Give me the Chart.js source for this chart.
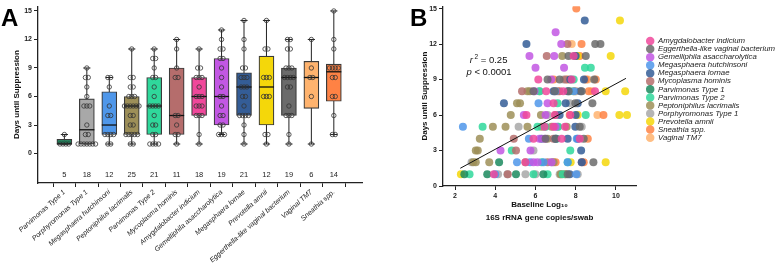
<!DOCTYPE html>
<html>
<head>
<meta charset="utf-8">
<script src="https://cdn.jsdelivr.net/npm/chart.js@4.4.1/dist/chart.umd.min.js"></script>
<style>
  html, body { margin: 0; padding: 0; background: #fff; }
  #wrap { position: relative; width: 775px; height: 275px; overflow: hidden; font-family: 'Liberation Sans', Arial, sans-serif; }
  .panel { position: absolute; top: 0; height: 275px; }
  #boxA { left: 0; width: 385px; }
  #boxB { left: 385px; width: 390px; }
  .tag { position: absolute; font-weight: bold; font-size: 24px; line-height: 24px; color: #000; }
</style>
</head>
<body>
<div id="wrap">
  <div class="panel" id="boxA"><canvas id="chartA"></canvas></div>
  <div class="panel" id="boxB"><canvas id="chartB"></canvas></div>
  <div class="tag" style="left:1px;top:6px">A</div>
  <div class="tag" style="left:410px;top:6px">B</div>
</div>
<script>
// species in the order of panel A
const species = [
  'Parvimonas Type 1', 'Porphyromonas Type 1', 'Megasphaera hutchinsoni',
  'Peptoniphilus lacrimalis', 'Parvimonas Type 2', 'Mycoplasma hominis',
  'Amygdalobacter indicium', 'Gemelliphila asaccharolytica', 'Megasphaera lornae',
  'Prevotella amnii', 'Eggerthella-like vaginal bacterium', 'Vaginal TM7', 'Sneathia spp.'
];
const colors = ['#1b8a5e', '#a8a8a8', '#4f97ea', '#9d8f58', '#2fd89b', '#b56d6c', '#f0489b',
  '#c257e3', '#345d97', '#f4d70a', '#6b6b6b', '#ffb36e', '#ff8244'];

// days until suppression, per species
const days = [
  [1, 1, 1, 1, 2],
  [1, 1, 1, 1, 1, 1, 1, 2, 2, 3, 5, 5, 5, 6, 7, 8, 8, 9],
  [1, 1, 2, 2, 2, 2, 4, 4, 5, 7, 8, 8],
  [1, 1, 2, 2, 2, 2, 2, 3, 3, 4, 4, 5, 5, 5, 5, 5, 5, 6, 6, 6, 7, 7, 8, 8, 11],
  [1, 1, 1, 1, 2, 2, 3, 3, 4, 5, 5, 5, 5, 6, 7, 8, 8, 9, 10, 10, 11],
  [1, 2, 2, 3, 4, 4, 8, 8, 9, 11, 12],
  [1, 2, 4, 4, 4, 5, 5, 5, 6, 6, 6, 7, 8, 8, 8, 9, 9, 11],
  [2, 2, 2, 3, 3, 4, 4, 5, 6, 6, 7, 8, 9, 10, 10, 11, 11, 12, 13],
  [1, 2, 3, 4, 4, 4, 4, 5, 6, 6, 7, 7, 7, 8, 8, 8, 9, 9, 11, 12, 14],
  [1, 2, 2, 6, 6, 6, 8, 8, 8, 11, 11, 14],
  [1, 2, 4, 4, 4, 5, 7, 7, 8, 8, 8, 8, 9, 9, 9, 11, 11, 12, 12],
  [1, 6, 8, 8, 9, 12],
  [2, 2, 4, 6, 6, 8, 8, 9, 9, 9, 9, 11, 12, 15]
];
// baseline log10 16S copies/swab, paired with days
const baseline = [
  [2.46, 3.6, 5.03, 6.39, 4.19],
  [4.14, 7.2, 7.5, 6.0, 8.1, 5.5, 4.6, 2.82, 6.8, 5.9, 5.16, 7.1, 8.3, 6.6, 7.7, 6.2, 8.0, 7.4],
  [4.0, 8.03, 5.08, 5.73, 6.4, 7.6, 5.67, 8.05, 2.39, 6.15, 7.0, 7.9],
  [7.47, 7.25, 3.03, 3.7, 2.9, 6.9, 5.5, 3.03, 3.13, 3.23, 6.6, 3.88, 4.51, 7.55, 6.8, 5.6, 6.3, 4.77, 6.27, 7.0, 5.08, 5.23, 5.6, 5.72, 7.33],
  [2.72, 7.35, 5.9, 6.6, 7.6, 6.3, 4.82, 7.73, 7.05, 3.37, 6.1, 7.13, 6.5, 8.5, 7.1, 7.7, 6.2, 7.9, 8.46, 8.75, 7.95],
  [4.62, 6.6, 8.3, 5.03, 4.92, 6.9, 5.33, 7.2, 7.5, 6.56, 7.59],
  [3.93, 5.5, 5.9, 7.3, 8.2, 6.45, 7.47, 6.9, 5.55, 6.96, 7.73, 6.9, 6.53, 7.38, 8.96, 6.14, 7.8, 7.9],
  [6.1, 6.8, 5.9, 4.26, 5.75, 6.2, 6.45, 7.0, 5.42, 6.5, 6.6, 5.95, 6.78, 6.0, 7.42, 6.93, 5.7, 7.28, 7.0],
  [7.7, 8.3, 8.27, 7.0, 8.1, 6.3, 7.6, 7.98, 7.2, 8.0, 4.43, 7.5, 8.1, 8.24, 7.6, 6.9, 7.73, 8.41, 8.0, 5.55, 8.45],
  [2.29, 9.49, 7.75, 10.17, 10.55, 8.1, 9.49, 10.46, 7.9, 9.74, 8.1, 10.2],
  [7.6, 8.88, 7.0, 8.4, 6.5, 8.2, 7.98, 8.83, 6.96, 7.65, 8.3, 5.9, 8.92, 7.2, 6.6, 7.64, 8.5, 8.97, 9.23],
  [7.3, 9.08, 8.0, 8.8, 8.6, 7.8],
  [8.4, 7.0, 8.6, 9.38, 7.7, 8.65, 7.1, 8.5, 7.6, 9.0, 6.9, 8.2, 8.29, 8.03]
];

// box plot statistics
const q1 = [1, 1, 2, 2, 2, 2, 4, 3, 4, 3, 4, 4.75, 5.5];
const q3 = [1.5, 5.75, 6.5, 6, 8, 9, 8, 10, 8.5, 10.25, 9, 9.7, 9.4];
const medians = [1, 2.5, 3, 5, 5, 4, 6, 6, 7, 7, 8, 8, 8.6];
const whiskLo = [1, 1, 1, 1, 1, 1, 1, 2, 1, 1, 1, 1, 2];
const whiskHi = [2, 9, 8, 11, 11, 12, 11, 13, 14, 14, 12, 12, 15];

const dayTicks = [0, 3, 6, 9, 12, 15];
const logTicks = [2, 4, 6, 8, 10];
// panel B legend order (index into species)
const legendOrder = [6, 10, 7, 2, 8, 5, 0, 4, 3, 1, 9, 12, 11];
// regression line end points
const fitLine = [{ x: 2.26, y: 1.5 }, { x: 10.5, y: 9.1 }];

const FONT = "'Liberation Sans', Arial, sans-serif";
Chart.defaults.font.family = FONT;
Chart.defaults.color = '#222';

function alpha(hex, a) {
  const n = parseInt(hex.slice(1), 16);
  return `rgba(${n >> 16},${(n >> 8) & 255},${n & 255},${a})`;
}

// ---------- panel A ----------
const boxData = species.map((s, i) => ({ x: i + 1, y: [q1[i], q3[i]] }));
const pointData = [];
days.forEach((vals, i) => {
  const total = {}, seen = {};
  vals.forEach(v => { total[v] = (total[v] || 0) + 1; });
  vals.forEach(v => {
    const k = seen[v] || 0;
    seen[v] = k + 1;
    pointData.push({ x: i + 1 + (k - (total[v] - 1) / 2) * 0.13, y: v });
  });
});

const boxExtras = {
  id: 'boxExtras',
  beforeDatasetsDraw(chart) {
    const { ctx, scales: { x, y } } = chart;
    ctx.save();
    ctx.strokeStyle = '#222';
    ctx.lineWidth = 1;
    species.forEach((s, i) => {
      const px = x.getPixelForValue(i + 1);
      const cw = x.getPixelForValue(i + 1.16) - px;
      ctx.beginPath();
      ctx.moveTo(px, y.getPixelForValue(whiskLo[i]));
      ctx.lineTo(px, y.getPixelForValue(whiskHi[i]));
      [whiskLo[i], whiskHi[i]].forEach(v => {
        const py = y.getPixelForValue(v);
        ctx.moveTo(px - cw, py);
        ctx.lineTo(px + cw, py);
      });
      ctx.stroke();
    });
    ctx.restore();
  },
  afterDatasetDraw(chart, args) {
    if (args.meta.type !== 'bar') return;
    const { ctx, scales: { y } } = chart;
    ctx.save();
    ctx.strokeStyle = '#111';
    ctx.lineWidth = 1.3;
    args.meta.data.forEach((bar, i) => {
      const py = y.getPixelForValue(medians[i]);
      ctx.beginPath();
      ctx.moveTo(bar.x - bar.width / 2, py);
      ctx.lineTo(bar.x + bar.width / 2, py);
      ctx.stroke();
    });
    ctx.restore();
  },
  afterDraw(chart) {
    const { ctx, scales: { x, y } } = chart;
    ctx.save();
    ctx.font = `7.5px ${FONT}`;
    ctx.fillStyle = '#222';
    ctx.textAlign = 'center';
    ctx.textBaseline = 'middle';
    days.forEach((vals, i) => {
      ctx.fillText(String(vals.length), x.getPixelForValue(i + 1), y.getPixelForValue(-2.3));
    });
    ctx.restore();
  }
};

new Chart('chartA', {
  type: 'bar',
  data: {
    datasets: [
      {
        type: 'scatter', data: pointData, order: 1,
        pointRadius: 2.2, pointBorderWidth: 0.8,
        pointBorderColor: '#333', pointBackgroundColor: 'rgba(0,0,0,0)'
      },
      {
        type: 'bar', data: boxData, order: 2,
        backgroundColor: colors, borderColor: '#3a3a3a', borderWidth: 1.2,
        borderSkipped: false, barThickness: 15
      }
    ]
  },
  options: {
    responsive: true, maintainAspectRatio: false, animation: false,
    layout: { padding: { top: 3, right: 23, left: 0, bottom: 0 } },
    plugins: { legend: { display: false }, tooltip: { enabled: false } },
    scales: {
      x: {
        type: 'linear', min: 0.38, max: 13.7,
        afterBuildTicks: s => { s.ticks = species.map((_, i) => ({ value: i + 1 })); },
        afterFit: s => { s.height = 92; },
        ticks: {
          autoSkip: false, minRotation: 42, maxRotation: 42, padding: 1,
          font: { size: 7, style: 'italic' }, color: '#222',
          callback: v => species[v - 1]
        },
        grid: { drawOnChartArea: false, drawTicks: true, tickLength: 4, color: '#222' },
        border: { color: '#222', width: 1.3 }
      },
      y: {
        min: -3.1, max: 15.5,
        afterBuildTicks: s => { s.ticks = dayTicks.map(v => ({ value: v })); },
        afterFit: s => { s.width = 38; },
        ticks: { font: { size: 7, weight: 'bold' }, padding: 2, color: '#222' },
        grid: { drawOnChartArea: false, tickLength: 4, color: '#222' },
        border: { color: '#222', width: 1.3 },
        title: { display: true, text: 'Days until Suppression', font: { size: 8, weight: 'bold' }, padding: { top: 12 }, color: '#111' }
      }
    }
  },
  plugins: [boxExtras]
});

// ---------- panel B ----------
const datasetsB = legendOrder.map(i => ({
  type: 'scatter',
  label: species[i],
  data: days[i].map((d, k) => ({ x: baseline[i][k], y: d })),
  backgroundColor: alpha(colors[i], 0.85),
  borderColor: alpha(colors[i], 0.85),
  pointRadius: 4, pointBorderWidth: 0
}));
datasetsB.push({
  type: 'line', label: 'fit', data: fitLine, order: -1,
  borderColor: '#111', borderWidth: 1, pointRadius: 0, fill: false
});

const statsText = {
  id: 'statsText',
  afterLayout(chart) {
    // nudge the legend block to the right edge, like the original figure
    chart.legend.left += 10;
    chart.legend.right += 10;
  },
  afterDraw(chart) {
    const { ctx, scales: { x, y } } = chart;
    const cx = x.getPixelForValue(3.69);
    ctx.save();
    ctx.fillStyle = '#111';
    ctx.textBaseline = 'middle';
    const y1 = y.getPixelForValue(10.6), y2 = y.getPixelForValue(9.6);
    const it = `italic 9.5px ${FONT}`, rg = `9.5px ${FONT}`, sm = `6.5px ${FONT}`;
    ctx.font = it; const wr = ctx.measureText('r ').width;
    ctx.font = sm; const w2 = ctx.measureText('2').width;
    ctx.font = rg; const we = ctx.measureText(' = 0.25').width;
    let sx = cx - (wr + w2 + we) / 2;
    ctx.font = it; ctx.fillText('r', sx, y1); sx += wr - 1;
    ctx.font = sm; ctx.fillText('2', sx, y1 - 3); sx += w2;
    ctx.font = rg; ctx.fillText(' = 0.25', sx, y1);
    ctx.font = it; const wp = ctx.measureText('p').width;
    ctx.font = rg; const wl = ctx.measureText(' < 0.0001').width;
    sx = cx - (wp + wl) / 2;
    ctx.font = it; ctx.fillText('p', sx, y2);
    ctx.font = rg; ctx.fillText(' < 0.0001', sx + wp, y2);
    ctx.restore();
  }
};

new Chart('chartB', {
  type: 'scatter',
  data: { datasets: datasetsB },
  options: {
    responsive: true, maintainAspectRatio: false, animation: false,
    layout: { padding: { top: 4, right: 0, left: 0, bottom: 0 } },
    plugins: {
      tooltip: { enabled: false },
      legend: {
        position: 'right', align: 'start', fullSize: false, maxWidth: 145,
        title: { display: true, text: '', font: { size: 1 }, padding: { top: 29.5, bottom: 0 } },
        labels: {
          filter: item => item.text !== 'fit',
          usePointStyle: true, pointStyle: 'circle', boxHeight: 6, boxWidth: 8,
          padding: 0.25, color: '#222',
          font: { size: 7.8, style: 'italic' }
        }
      }
    },
    scales: {
      x: {
        type: 'linear', min: 1.4, max: 11,
        afterBuildTicks: s => { s.ticks = logTicks.map(v => ({ value: v })); },
        afterFit: s => { s.height = 89; },
        ticks: { font: { size: 7, weight: 'bold' }, padding: 2, color: '#222' },
        grid: { drawOnChartArea: false, tickLength: 4, color: '#222' },
        border: { color: '#222', width: 1.3 },
        title: {
          display: true, text: ['Baseline Log\u2081\u2080', '16S rRNA gene copies/swab'],
          font: { size: 8, weight: 'bold', lineHeight: 1.6 }, padding: { top: 0, bottom: 50.8 }, color: '#111'
        }
      },
      y: {
        min: 0, max: 15.2,
        afterBuildTicks: s => { s.ticks = dayTicks.map(v => ({ value: v })); },
        afterFit: s => { s.width = 58; },
        ticks: { font: { size: 7, weight: 'bold' }, padding: 2, color: '#222' },
        grid: { drawOnChartArea: false, tickLength: 4, color: '#222' },
        border: { color: '#222', width: 1.3 },
        title: { display: true, text: 'Days until Suppression', font: { size: 8, weight: 'bold' }, padding: { top: 35 }, color: '#111' }
      }
    }
  },
  plugins: [statsText]
});
</script>
</body>
</html>
